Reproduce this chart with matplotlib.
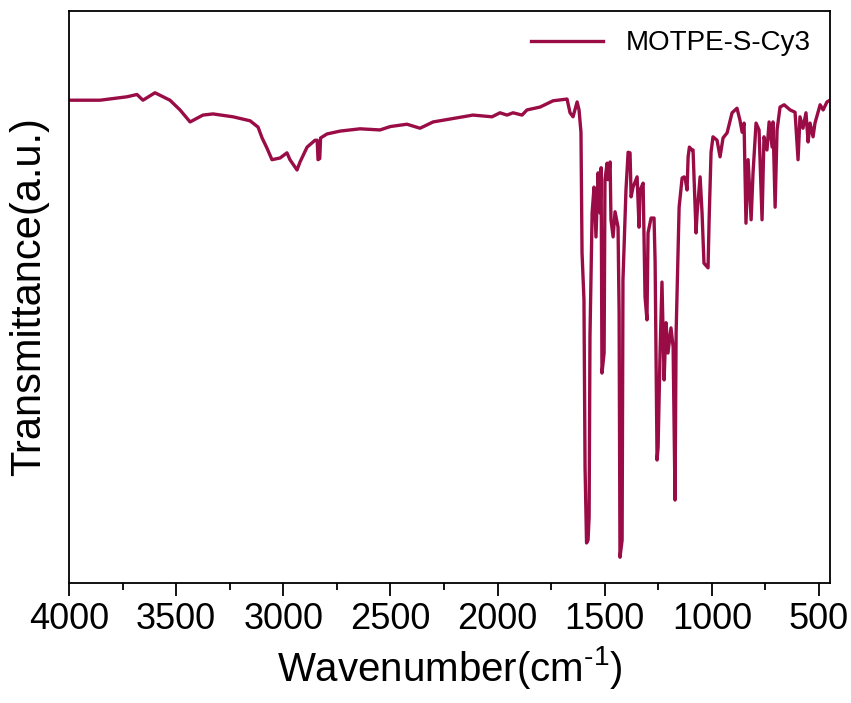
import matplotlib
matplotlib.use("Agg")
import matplotlib.pyplot as plt
from matplotlib.ticker import MultipleLocator

plt.rcParams['font.family'] = ['Liberation Sans', 'DejaVu Sans']
plt.rcParams['mathtext.fontset'] = 'custom'
plt.rcParams['mathtext.rm'] = 'Liberation Sans'
plt.rcParams['mathtext.it'] = 'Liberation Sans:italic'

# FTIR spectrum (wavenumber in cm-1, transmittance in a.u.)
wavenumber = [
    4000, 3855, 3729, 3683, 3655, 3599, 3529, 3482, 3435, 3375, 3328, 3235,
    3155, 3118, 3099, 3076, 3053, 3015, 2983, 2969, 2936, 2922, 2889, 2852,
    2842, 2838, 2830, 2826, 2796, 2735, 2642, 2549, 2500, 2423, 2362, 2301,
    2115, 2026, 1989, 1956, 1928, 1886, 1863, 1802, 1741, 1676, 1662, 1648,
    1629, 1620, 1611, 1606, 1601, 1597, 1592, 1585, 1578, 1573, 1569, 1559,
    1550, 1541, 1531, 1522, 1517, 1513, 1503, 1499, 1489, 1485, 1475, 1471,
    1461, 1452, 1438, 1433, 1429, 1419, 1415, 1401, 1391, 1382, 1377, 1368,
    1349, 1340, 1335, 1321, 1312, 1303, 1298, 1284, 1270, 1265, 1256, 1251,
    1242, 1233, 1223, 1214, 1205, 1191, 1181, 1172, 1167, 1163, 1153, 1139,
    1130, 1125, 1116, 1111, 1105, 1093, 1088, 1074, 1069, 1055, 1046, 1037,
    1018, 1013, 1004, 995, 976, 962, 948, 929, 906, 883, 869, 859,
    850, 841, 831, 817, 808, 794, 780, 766, 757, 743, 733, 719,
    715, 705, 696, 682, 663, 635, 612, 598, 589, 575, 561, 551,
    542, 528, 519, 495, 481, 463, 449,
]
transmittance = [
    84.4, 84.4, 85.0, 85.4, 84.4, 85.7, 84.4, 82.7, 80.6, 81.8, 82.0, 81.5,
    80.8, 79.7, 77.8, 76.0, 74.0, 74.3, 75.2, 74.0, 72.2, 73.6, 76.2, 77.4,
    77.4, 74.0, 74.2, 77.8, 78.5, 79.0, 79.4, 79.2, 79.8, 80.2, 79.5, 80.6,
    81.8, 81.5, 82.2, 81.8, 82.2, 81.8, 82.7, 83.2, 84.3, 84.6, 82.2, 81.5,
    84.1, 82.7, 78.8, 57.7, 53.0, 49.5, 20.3, 7.0, 7.5, 11.5, 43.0, 64.7,
    69.2, 60.5, 71.7, 64.7, 72.6, 36.7, 40.2, 70.5, 73.4, 70.5, 73.6, 63.5,
    60.5, 64.9, 62.2, 47.2, 4.5, 7.5, 53.0, 68.7, 75.3, 75.2, 67.5, 69.2,
    71.0, 62.2, 68.7, 69.9, 50.0, 46.0, 61.2, 63.8, 63.8, 56.1, 21.5, 23.8,
    40.2, 52.6, 35.5, 45.5, 40.2, 44.6, 41.3, 14.5, 43.7, 50.0, 65.7, 70.8,
    71.0, 70.8, 68.7, 74.5, 76.2, 75.7, 75.7, 61.2, 64.7, 71.0, 64.7, 55.9,
    55.1, 63.5, 75.3, 78.0, 77.4, 74.5, 77.8, 78.7, 82.2, 83.0, 80.9, 78.8,
    80.4, 62.9, 74.0, 63.5, 71.7, 80.4, 79.2, 63.5, 78.0, 75.7, 80.6, 76.2,
    80.6, 65.7, 79.2, 83.2, 83.6, 82.7, 82.3, 74.0, 81.5, 79.5, 82.2, 77.1,
    80.4, 78.0, 80.4, 83.6, 82.7, 84.1, 84.4,
]
sample = "MOTPE-S-Cy3"

fig = plt.figure(figsize=(8.51, 7.03), dpi=100)
ax = fig.add_axes([0.0811, 0.1707, 0.8942, 0.8137])

ax.plot(wavenumber, transmittance, color='#9A0C46', lw=2.4, label=sample)

ax.set_xlim(4000, 449)
ax.set_ylim(0, 100)
ax.xaxis.set_major_locator(MultipleLocator(500))
ax.xaxis.set_minor_locator(MultipleLocator(250))
ax.tick_params(axis='x', which='major', direction='out', length=9, width=1.3,
               labelsize=26, pad=5)
ax.tick_params(axis='x', which='minor', direction='out', length=5, width=1.3)
ax.set_yticks([])
for s in ax.spines.values():
    s.set_linewidth(1.3)

ax.set_xlabel(r'Wavenumber(cm$^{\text{-1}}$)', fontsize=29, labelpad=5)
ax.set_ylabel('Transmittance(a.u.)', fontsize=30, labelpad=14)

ax.legend(loc='upper right', frameon=False, fontsize=20, handlelength=2.6,
          borderaxespad=0.3, bbox_to_anchor=(1.0, 1.0))

fig.savefig('out.png', dpi=100)
